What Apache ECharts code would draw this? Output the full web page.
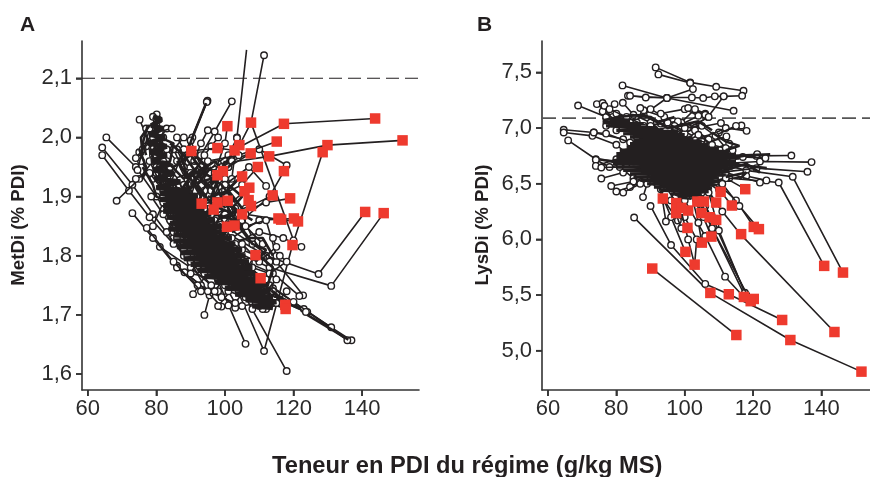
<!DOCTYPE html>
<html><head><meta charset="utf-8">
<style>html,body{margin:0;padding:0;background:#fff}#c{width:870px;height:477px}</style>
<script src="https://cdn.jsdelivr.net/npm/echarts@6/dist/echarts.min.js"></script>
</head><body><div id="c"></div>
<script>
const xTicks=[60,80,100,120,140];
const yTicksA=[1.6,1.7,1.8,1.9,2.0,2.1];
const yTicksB=[5.0,5.5,6.0,6.5,7.0,7.5];
const limitA=2.1, limitB=7.09;
const redA=[[100.7,2.019],[107.6,2.025],[117.2,2.023],[143.8,2.032],[151.8,1.995],[129.9,1.987],[128.5,1.975],[115.1,1.993],[112.9,1.968],[107.5,1.973],[104.2,1.987],[102.8,1.978],[97.8,1.982],[90.2,1.977],[109.6,1.95],[117.2,1.943],[99.4,1.943],[97.8,1.936],[105,1.934],[107.1,1.915],[105.7,1.909],[113.9,1.902],[119,1.897],[93.2,1.888],[100.8,1.893],[97.8,1.89],[96.7,1.878],[106.9,1.894],[107.6,1.884],[105,1.87],[115.6,1.863],[116.4,1.861],[120.1,1.863],[121.3,1.858],[140.9,1.874],[146.3,1.872],[100.6,1.849],[102.8,1.851],[119.7,1.818],[108.9,1.801],[110.4,1.762],[117.6,1.717],[117.7,1.71]];
const redB=[[93.6,6.367],[97.5,6.326],[103.7,6.34],[105.6,6.34],[110.5,6.427],[117.7,6.451],[109.2,6.331],[113.8,6.304],[97.5,6.236],[101,6.259],[99,6.283],[104.9,6.236],[107.3,6.199],[109.2,6.175],[100.8,6.103],[120.2,6.112],[121.7,6.092],[116.5,6.047],[107.8,6.025],[105,5.971],[100.2,5.888],[102.9,5.773],[90.5,5.738],[140.8,5.762],[146.3,5.702],[107.5,5.519],[112.9,5.507],[117.3,5.483],[120.2,5.465],[119.3,5.445],[128.5,5.276],[143.8,5.168],[115.1,5.141],[130.9,5.096],[151.7,4.812]];
const hiddenEndA=[[106.3,2.148]];
const tracksA=[
[[143.8,2.032],[117.2,2.023],[103,1.98],[92,1.93],[85,1.89]],
[[151.8,1.995],[129.9,1.987],[112.9,1.968],[98,1.955],[88,1.92]],
[[128.5,1.975],[119.7,1.818],[111.4,1.639],[103,1.75],[95,1.84]],
[[107.6,2.025],[120,1.826]],
[[111.4,2.139],[107.6,2.025],[101,1.95],[95,1.88]],
[[106.3,2.148],[103.5,2],[102,1.93],[95,1.87]],
[[140.9,1.874],[127.3,1.769],[112,1.8],[100,1.84]],
[[146.3,1.872],[131,1.749],[113,1.78],[102,1.81]],
[[102,2.061],[97,2.01],[93,1.97],[90,1.92]],
[[94.9,2.062],[90,1.995],[88,1.95],[90,1.88]],
[[94.7,2.06],[90.5,2],[87,1.96]],
[[100.7,2.019],[100,1.99],[97,1.94],[93,1.88]],
[[98,2.0],[96,1.985],[94,1.97],[90,1.93]],
[[95,2.012],[93,1.99],[91,1.96]],
[[103.5,1.999],[101,1.97],[100,1.93]],
[[117.2,1.943],[113,1.9],[105,1.86],[98,1.83]],
[[118,1.953],[110,1.98],[102,1.96],[97,1.92]],
[[112,1.918],[107,1.95],[100,1.92],[95,1.89]],
[[115.1,1.993],[104,1.97],[95,1.96],[88,1.9]],
[[90.2,1.977],[97.8,1.982],[102.8,1.978],[95,1.92]],
[[113.9,1.902],[106,1.88],[100,1.86],[93,1.85]],
[[119,1.897],[112,1.89],[104,1.87],[97,1.86]],
[[121.3,1.858],[116,1.861],[106,1.87],[98,1.85]],
[[120.1,1.863],[110,1.86],[102,1.83]],
[[122.3,1.815],[117,1.83],[110,1.84],[103,1.82]],
[[136.9,1.657],[124,1.705],[115,1.735],[106,1.775],[96,1.83]],
[[135.7,1.657],[123,1.71],[114,1.745],[104,1.785],[94,1.84]],
[[131,1.679],[120,1.722],[112,1.755],[102,1.79],[92,1.85]],
[[123.6,1.705],[117,1.722],[108,1.755],[100,1.79]],
[[122.8,1.733],[115,1.79],[108,1.82],[100,1.85]],
[[121.7,1.732],[114,1.77],[106,1.79],[98,1.82]],
[[118,1.605],[105,1.74],[96,1.82],[90,1.87]],
[[106,1.651],[97,1.77],[90,1.84]],
[[94,1.7],[95.5,1.733],[90,1.79],[85,1.83]],
[[90.7,1.735],[96,1.78],[92,1.83]],
[[81,1.815],[90,1.78],[98,1.74],[103,1.712]],
[[86,1.783],[93,1.75],[99,1.714],[101,1.716]],
[[88.2,1.772],[95,1.74],[105,1.715],[110,1.72]],
[[98,1.715],[103,1.75],[108,1.73],[114,1.72]],
[[65.4,2],[74,1.95],[80,1.9],[87,1.84]],
[[64.2,1.983],[73,1.92],[79,1.87],[88,1.8]],
[[64.2,1.97],[72,1.91],[78,1.865],[85,1.82]],
[[68.4,1.893],[75,1.93],[79,1.96]],
[[73,1.872],[79,1.83],[86,1.78],[92,1.75]],
[[77.2,1.847],[85,1.79],[93,1.74]],
[[80.1,2.039],[81.5,1.985],[83,1.94],[86,1.89],[90,1.84]],
[[79,2.035],[80.5,1.98],[84,1.93],[88,1.87],[93,1.82]],
[[80.6,2.03],[79,1.97],[82,1.92],[87,1.86],[92,1.83]],
[[75.1,2.03],[78,1.99],[80,1.94],[85,1.9],[89,1.85]],
[[77,2.015],[82,2],[80,1.95],[84,1.88],[90,1.81]],
[[83,2.015],[80,1.99],[78,1.96],[83,1.9],[88,1.84]],
[[84.5,2.015],[81,2.01],[83,1.96],[86,1.91],[91,1.86]],
[[78,2.015],[75.5,1.96],[79,1.93],[84,1.91],[90,1.87]],
[[75,1.975],[77,1.985],[80,1.97],[84,1.94],[88,1.89]],
[[74,1.965],[79,2],[81,1.95],[82,1.9],[87,1.83]],
[[74.5,1.945],[76,1.98],[80,2.02],[82,1.96],[85,1.88]],
[[74,1.93],[78,1.94],[82,1.91],[87,1.85],[93,1.8]],
[[78.5,1.9],[82,1.87],[85,1.84],[90,1.79],[96,1.75]],
[[79,1.85],[82,1.89],[86,1.83],[89,1.8],[95,1.77]],
[[84,1.95],[88,1.91],[85,1.86],[91,1.82],[97,1.78]],
[[86,1.98],[89,1.94],[87,1.87],[93,1.84],[99,1.77]],
[[84,1.86],[90,1.89],[94,1.85],[88,1.81],[96,1.79]],
[[83,1.84],[88,1.88],[95,1.82],[90,1.77],[98,1.76]],
[[86,1.87],[93,1.9],[96,1.86],[92,1.8],[102,1.77]],
[[92,1.79],[97,1.81],[101,1.76],[107,1.79],[111,1.74]],
[[94,1.77],[99,1.78],[104,1.8],[108,1.74],[112,1.71]],
[[97,1.74],[102,1.78],[106,1.76],[110,1.72],[114,1.74]],
[[98,1.76],[104,1.74],[107,1.78],[112,1.76],[116,1.72]],
[[100,1.75],[103,1.72],[108,1.76],[111,1.71],[113,1.75]],
[[99,1.73],[105,1.76],[109,1.75],[113,1.72],[117.7,1.71]],
[[101,1.74],[106,1.73],[110,1.76],[110.4,1.762],[117.6,1.717]],
[[95,1.81],[100,1.83],[105,1.81],[108.9,1.801],[103,1.75]],
[[91,1.88],[97,1.9],[105,1.87],[108,1.83],[113,1.79]],
[[93.2,1.888],[100.8,1.893],[97,1.85],[93,1.81]],
[[97.8,1.89],[103,1.88],[98,1.84]],
[[96.7,1.878],[100.6,1.849],[96,1.82]],
[[102.8,1.851],[105,1.87],[99,1.83]],
[[99.4,1.943],[97.8,1.936],[94,1.91],[90,1.86]],
[[105,1.934],[100,1.91],[94,1.87]],
[[107.1,1.915],[105.7,1.909],[100,1.88],[95,1.86]],
[[106.9,1.894],[107.6,1.884],[100,1.87],[96,1.85]],
[[109.6,1.95],[105,1.92],[98,1.9]],
[[107.5,1.973],[101,1.95],[94,1.93]],
[[104.2,1.987],[99,1.95],[92,1.9]],
[[111,1.82],[106,1.85],[112,1.86],[115,1.8]],
[[114,1.83],[115,1.815],[110,1.79],[105,1.82]],
[[116,1.8],[118,1.79],[113,1.77],[108,1.78]],
[[88,1.95],[92,1.96],[95,1.93],[92,1.89],[88,1.88]],
[[85,1.93],[90,1.94],[96,1.91],[100,1.87]],
[[83,1.98],[86,1.96],[91,1.9],[96,1.87]],
[[86,2.0],[88,1.98],[84,1.92],[88,1.86]],
[[88,2.0],[85,1.98],[89,1.93],[91,1.87]],
[[90,1.995],[93,1.95],[90,1.9],[94,1.88]],
[[112,1.74],[115,1.76],[111,1.73],[108,1.71],[110,1.715]],
[[118,1.74],[115,1.72],[109,1.72],[112,1.73]],
];
const coreA=[
[[79,2.035],[81.5,2.03],[78.5,2.02],[82,2.015],[78,2.005],[82.5,2],[77.5,1.99],[83,1.985],[78,1.975],[83,1.97],[78.5,1.96],[84,1.955],[79,1.945],[85,1.94],[79.5,1.93],[87,1.925],[80,1.915],[90,1.91],[81,1.905],[92,1.9],[81,1.895],[93,1.89],[82,1.885],[94,1.88],[82,1.875],[96,1.87],[83,1.865],[97,1.86],[84,1.855],[99,1.85],[83.5,1.845],[100,1.84],[85,1.835],[102,1.83],[85,1.825],[103,1.82],[86,1.815],[105,1.81],[87,1.805],[106,1.8],[88,1.795],[107,1.79],[90,1.785],[108,1.78],[92,1.775],[109,1.77],[94,1.765],[110,1.76],[97,1.755],[112,1.75],[100,1.745],[113,1.74],[103,1.735],[114,1.73],[106,1.725],[115,1.722],[108,1.715],[114,1.712]],
];
const denseA=[
[[86,1.96],[90,1.93],[94,1.9]],
[[94.5,2.058],[90.5,2],[88,1.96]],
[[96,1.95],[92,1.92],[97,1.88]],
[[104,1.93],[99,1.9],[103,1.86]],
[[103,1.96],[97,1.93],[100,1.88]],
[[124,1.7],[136,1.658]],
[[84,1.99],[88,1.97],[93,1.93],[97,1.91]],
[[85,1.95],[90,1.97],[94,1.94],[99,1.92],[103,1.89]],
[[87,1.98],[89,1.93],[94,1.95],[98,1.94]],
[[91,1.97],[95,1.95],[90,1.92],[96,1.93]],
[[100,1.96],[96,1.9],[101,1.91],[105,1.88]],
[[83,1.96],[88,1.93],[92,1.95],[87,1.91]],
[[75,1.98],[77,1.95],[76,1.93]],
[[78,2.02],[75.5,2.0],[76,1.97]],
[[104,1.85],[108,1.82],[112,1.81],[109,1.79]],
[[110,1.8],[114,1.78],[112,1.74]],
[[107,1.83],[111,1.83],[114,1.8]],
[[114,1.74],[118,1.72],[122,1.71]],
[[86,1.89],[91,1.92],[93,1.9]],
[[95,1.9],[100,1.895],[104,1.875],[99,1.865]],
[[96,1.885],[101,1.875],[105,1.85],[102,1.84]],
[[97,1.87],[103,1.86],[107,1.83],[104,1.825]],
[[92,1.94],[97,1.96],[100,1.94],[96,1.92]],
[[101,1.92],[105,1.9],[102,1.88],[108,1.86]],
[[81,2.0],[85,1.99],[84,1.96],[81,1.95]],
[[76,1.95],[79,1.92],[80,1.9],[84,1.89]],
[[77,1.97],[76,1.99],[77,2.01]],
];
const hiddenEndB=[];
const tracksB=[
[[151.7,4.812],[130.9,5.096],[107.5,5.519],[85.2,6.196]],
[[115.1,5.141],[90.5,5.738]],
[[143.8,5.168],[116.5,6.04],[111,6.25],[105,6.5]],
[[128.5,5.276],[112.9,5.507],[106,5.6],[96,5.95],[90,6.3]],
[[146.3,5.702],[131.6,6.562],[118,6.62],[108,6.7]],
[[140.8,5.762],[127.5,6.511],[113,6.55],[103,6.65]],
[[117.3,5.483],[111.8,5.665],[106,6.03],[100,6.35],[95,6.6]],
[[117.5,5.5],[108,6.1],[103,6.4],[98,6.6]],
[[118,5.5],[109,6.12],[105,6.35],[100,6.55]],
[[117.6,5.52],[110,6.08],[106,6.3],[102,6.55]],
[[120.2,5.465],[119.3,5.445],[108,6.1],[104,6.4]],
[[102.9,5.773],[103.5,6.0],[100,6.2],[97,6.5]],
[[102.9,5.773],[101,6],[99,6.25],[94,6.5]],
[[100.2,5.888],[96,6.2],[92,6.5]],
[[105,5.971],[104,6.15],[102,6.4],[98,6.55]],
[[107.8,6.025],[105.5,6.2],[100,6.5]],
[[91.5,7.545],[101.6,7.41],[109.2,7.371],[117.2,7.335]],
[[92.3,7.482],[101.6,7.405],[102.4,7.35],[94.8,7.27],[83.4,7.29]],
[[81.8,7.383],[94.8,7.27],[114.3,7.155]],
[[84,7.29],[88.6,7.275],[102.1,7.275],[105.4,7.27],[108.8,7.285],[111.4,7.285],[116.8,7.29]],
[[111.4,7.285],[106.8,7.1],[98,6.92],[90,6.85]],
[[94.8,7.27],[88,7.12],[85,7.05]],
[[68.8,7.203],[77,7.1],[85,7.05],[92,6.95]],
[[74.3,7.215],[79,7.1],[84,7.08],[88,6.95]],
[[76,7.225],[80,7.13],[86,7.05],[92,6.9]],
[[79.5,7.215],[76,7.15],[81,7.05],[88,6.9]],
[[81.9,7.227],[85,7.12],[90,7.05],[96,6.9]],
[[76.5,7.2],[78,7.17],[83,7.1],[90,7]],
[[90,7.17],[94,7.1],[88,7.16],[87,7.18]],
[[93,7.13],[100,7.17],[104,7.11],[97,7]],
[[101,7.18],[106,7.13],[103,7.17],[99,7.05],[95,6.95]],
[[106,7.12],[107,7.1],[101,7],[94,6.88]],
[[110.6,7.045],[103,7],[96,6.9]],
[[64.6,6.985],[73.4,6.96],[82,6.9],[90,6.8]],
[[64.6,6.96],[73,6.93],[80,6.85],[85,6.72]],
[[65.9,6.889],[74,6.72],[82,6.7],[90,6.65]],
[[73.4,6.96],[77,6.95],[84,6.87],[90,6.75]],
[[74,6.715],[78,6.65],[83,6.68],[90,6.72]],
[[74,6.66],[80,6.72],[85,6.7]],
[[75.6,6.646],[81,6.65],[85,6.55]],
[[75.6,6.547],[82,6.6],[88,6.65]],
[[78.5,6.48],[85,6.52],[92,6.6]],
[[80,6.43],[84,6.47],[90,6.55]],
[[82,6.42],[87,6.5],[95,6.6]],
[[87.8,6.38],[89,6.5],[93,6.65]],
[[94.5,6.16],[93,6.45],[96,6.6]],
[[98,6.17],[94,6.35],[92,6.55]],
[[99,6.1],[96,6.35],[98,6.55]],
[[131.2,6.754],[121,6.75],[110,6.72],[100,6.75]],
[[137.1,6.694],[122,6.7],[110,6.68],[98,6.72]],
[[135.9,6.607],[121,6.64],[110,6.6],[100,6.7]],
[[123.6,6.73],[117,6.74],[106,6.65],[95,6.75]],
[[121.2,6.766],[114,6.73],[104,6.78],[92,6.8]],
[[123.9,6.53],[118,6.57],[108,6.52],[100,6.6]],
[[122,6.51],[112,6.6],[105,6.7]],
[[116.6,7.023],[110,6.96],[102,6.9],[92,6.85]],
[[118.1,6.975],[112,7],[105,6.9],[95,6.8]],
[[115,7.02],[108,6.92],[100,6.88],[90,6.78]],
[[112.2,6.925],[105,6.85],[97,6.82]],
[[113,6.86],[107,6.8],[98,6.72]],
[[117.7,6.451],[112,6.55],[105,6.5]],
[[110.5,6.427],[105,6.55],[97,6.62]],
[[93.6,6.367],[92,6.5],[88,6.72]],
[[99,6.283],[98,6.42],[94,6.6]],
[[103.7,6.34],[101,6.5],[98,6.7]],
[[109.2,6.331],[106,6.48],[102,6.72]],
[[113.8,6.304],[110,6.45],[104,6.7]],
[[104.9,6.236],[103,6.42],[100,6.62]],
[[107.3,6.199],[105,6.42],[101,6.66]],
[[109.2,6.175],[107,6.42],[103,6.68]],
[[120.2,6.112],[115,6.35],[109,6.52]],
[[121.7,6.092],[116,6.3],[111,6.5]],
[[88,7.02],[93,7.04],[98,7.06],[103,6.98],[107,6.9]],
[[80,6.98],[85,7],[91,6.98],[97,7.02],[103,6.92]],
[[77,7.02],[84,7.05],[90,7.02],[95,7.05],[100,6.95]],
[[83,6.78],[86,6.92],[92,6.86],[97,6.92],[104,6.84]],
[[93,6.96],[99,6.85],[104,6.94],[108,6.85],[114,6.8]],
[[94,6.9],[100,7],[105,7.02],[109,6.93],[112,6.82]],
];
const coreB=[
[[78,7.08],[84,7.07],[76,7.05],[88,7.04],[77,7.02],[92,7],[80,6.98],[98,6.97],[82,6.95],[100,6.94],[84,6.92],[102,6.91],[85,6.89],[105,6.88],[84,6.86],[107,6.85],[83,6.83],[110,6.82],[81,6.8],[113,6.79],[80,6.77],[115,6.76],[80,6.74],[116,6.73],[79,6.71],[115,6.7],[79,6.68],[116,6.67],[80,6.65],[114,6.64],[82,6.62],[113,6.61],[84,6.59],[112,6.58],[85,6.56],[110,6.55],[87,6.53],[110,6.52],[89,6.5],[109,6.49],[91,6.47],[108,6.46],[93,6.44],[107,6.43],[96,6.41],[105,6.4],[98,6.38],[102,6.37]],
];
const denseB=[
[[114,6.75],[125,6.765]],
[[113,6.68],[124,6.64]],
[[80,7.1],[88,7.12],[92,7.05],[97,7.1]],
[[84,7.12],[90,7.1],[95,7],[102,7.04]],
[[75,6.72],[82,6.68]],
[[76,7.07],[81,7.1]],
[[112,6.62],[118,6.68],[122,6.6]],
[[112,6.56],[118,6.6],[116,6.54]],
[[108,6.96],[112,6.88],[116,6.84],[112,6.8]],
[[98,7.02],[104,7.06],[108,6.98]],
];
const inkColor='#231f20', redColor='#ee3a2e';
const xBoundsA=[58.3,156.6], xBoundsB=[58.25,154.2];
const yBoundsA=[1.573,2.163], yBoundsB=[4.647,7.782];

const fontFam='"Liberation Sans",Arial,sans-serif';
function axes(gridIndex,bounds,ticks,isX,dec,name,gap){
  const ax={type:'value',gridIndex,min:bounds[0],max:bounds[1],splitLine:{show:false},
    axisLine:{show:true,onZero:false,lineStyle:{color:'#333',width:1.6}},
    axisTick:{show:true,length:6,customValues:ticks,lineStyle:{color:'#333',width:1.6}},
    axisLabel:{show:true,customValues:ticks,color:'#2b2b2b',fontFamily:fontFam,fontSize:22,margin:isX?8:10,
      formatter:v=>dec?v.toFixed(1).replace('.',','):String(v)}};
  if(name){ax.name=name;ax.nameLocation='middle';ax.nameGap=gap;ax.nameRotate=90;
    ax.nameTextStyle={fontFamily:fontFam,fontWeight:'bold',fontSize:18.7,color:inkColor,padding:[0,19,0,0]};}
  return ax;
}
const series=[];
let zc=3;
[[limitA,xBoundsA,0,[13,6]],[limitB,xBoundsB,1,[14,6]]].forEach(([v,b,i,dash])=>series.push({type:'line',xAxisIndex:i,yAxisIndex:i,z:1,silent:true,animation:false,
  symbol:'none',lineStyle:{color:i?'#555':inkColor,width:i?1.7:1.2,type:dash},data:[[b[0],v],[b[1],v]]}));
function addTracks(tracks,idx,hidden){
  tracks.forEach(t=>{
    series.push({type:'line',xAxisIndex:idx,yAxisIndex:idx,z:zc++,clip:true,silent:true,animation:false,
      showAllSymbol:true,symbol:'circle',symbolSize:6.5,
      lineStyle:{color:inkColor,width:1.6},
      itemStyle:{color:'#fff',borderColor:inkColor,borderWidth:1.4},
      data:t.map(p=>hidden.some(h=>h[0]===p[0]&&h[1]===p[1])?{value:p,symbol:'none'}:p)});
  });
}
function addCore(tracks,idx,w){
  tracks.forEach(t=>series.push({type:'line',xAxisIndex:idx,yAxisIndex:idx,z:zc++,clip:true,silent:true,animation:false,
    symbol:'none',lineStyle:{color:inkColor,width:w},data:t}));
}
addTracks(tracksA,0,hiddenEndA);
addCore(denseA,0,2.6);
addCore(coreA,0,5);
addTracks(tracksB,1,hiddenEndB);
addCore(denseB,1,2.6);
addCore(coreB,1,3.4);
[[redA,0],[redB,1]].forEach(([d,i])=>series.push({type:'scatter',xAxisIndex:i,yAxisIndex:i,z:zc+5,silent:true,animation:false,
  symbol:'rect',symbolSize:10.5,itemStyle:{color:redColor,opacity:1},data:d}));
// tick marks positioned through the axis scales, drawn just outside the plot area
[[xBoundsA,yBoundsA,yTicksA,0],[xBoundsB,yBoundsB,yTicksB,1]].forEach(([xb,yb,yt,i])=>{
  series.push({type:'scatter',xAxisIndex:i,yAxisIndex:i,z:2,clip:false,silent:true,animation:false,
    symbol:'rect',symbolSize:[6,1.6],symbolOffset:[-3,0],itemStyle:{color:'#333',opacity:1},data:yt.map(v=>[xb[0],v])});
  series.push({type:'scatter',xAxisIndex:i,yAxisIndex:i,z:2,clip:false,silent:true,animation:false,
    symbol:'rect',symbolSize:[1.6,6],symbolOffset:[0,3],itemStyle:{color:'#333',opacity:1},data:xTicks.map(v=>[v,yb[0]])});
});

const chart=echarts.init(document.getElementById('c'),null,{renderer:'canvas'});
chart.setOption({backgroundColor:'#fff',animation:false,
  grid:[{left:82,right:451,top:41,bottom:87,containLabel:false},{left:542,right:0,top:41,bottom:87,containLabel:false}],
  xAxis:[axes(0,xBoundsA,xTicks,true,false),axes(1,xBoundsB,xTicks,true,false)],
  yAxis:[axes(0,yBoundsA,yTicksA,false,true,'MetDi (% PDI)',54),axes(1,yBoundsB,yTicksB,false,true,'LysDi (% PDI)',50)],
  series,
  graphic:[
    {type:'text',left:20,top:15,style:{text:'A',font:'bold 21px '+fontFam,fill:inkColor}},
    {type:'text',left:477,top:15,style:{text:'B',font:'bold 21px '+fontFam,fill:inkColor}},
    {type:'text',left:272,top:454,style:{text:'Teneur en PDI du régime (g/kg MS)',font:'bold 23.7px '+fontFam,fill:inkColor}}
  ]});
</script></body></html>
